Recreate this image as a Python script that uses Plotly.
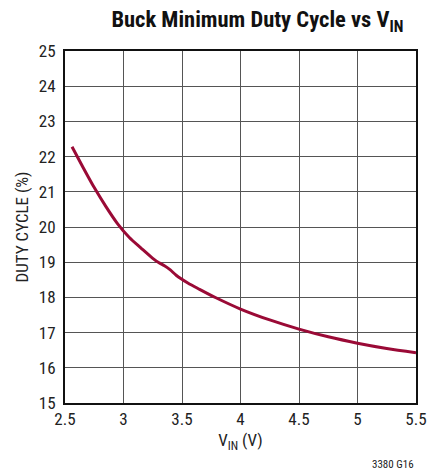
import plotly.graph_objects as go

vin = [2.56, 2.65, 2.75, 2.85, 2.95, 3.05, 3.15, 3.25, 3.30, 3.35, 3.40, 3.45, 3.55, 3.65, 3.79, 4.00, 4.25, 4.50, 4.75, 5.00, 5.25, 5.50]
duty = [22.28, 21.72, 21.12, 20.58, 20.09, 19.70, 19.40, 19.11, 18.99, 18.90, 18.78, 18.63, 18.41, 18.23, 17.99, 17.67, 17.36, 17.10, 16.88, 16.70, 16.55, 16.43]

x_ticks = [2.5, 3, 3.5, 4, 4.5, 5, 5.5]
x_labels = ["2.5", "3", "3.5", "4", "4.5", "5", "5.5"]
y_ticks = list(range(15, 26))

FONT = "Liberation Sans Narrow, Roboto Condensed, Arial Narrow, sans-serif"

fig = go.Figure()
fig.add_trace(go.Scatter(x=vin, y=duty, mode="lines",
                         line=dict(color="#9a0a36", width=3, shape="spline", smoothing=0.8),
                         showlegend=False, hoverinfo="skip"))

fig.update_layout(
    width=429, height=474,
    margin=dict(l=65, r=13, t=51, b=71, autoexpand=False),
    paper_bgcolor="white", plot_bgcolor="white",
    font=dict(family=FONT, color="#222", size=17),
    title=dict(text="<b>Buck Minimum Duty Cycle vs V<sub>IN</sub></b>",
               xref="container", x=0.60, xanchor="center", y=0.96, yanchor="middle",
               font=dict(family=FONT, size=22.5, color="#111")),
)
fig.update_xaxes(range=[2.5, 5.5], tickvals=x_ticks, ticktext=x_labels,
                 showgrid=True, gridcolor="#555", gridwidth=1,
                 showline=True, linecolor="#111", linewidth=2, mirror=True,
                 ticks="", zeroline=False, automargin=False,
                 title=dict(text="V<sub>IN</sub> (V)", font=dict(size=17), standoff=6),
                 tickfont=dict(size=17))
fig.update_yaxes(range=[15, 25], tickvals=y_ticks,
                 showgrid=True, gridcolor="#555", gridwidth=1,
                 showline=True, linecolor="#111", linewidth=2, mirror=True,
                 ticks="", zeroline=False, automargin=False, ticklabelstandoff=4,
                 title=dict(text="DUTY CYCLE (%)", font=dict(size=17), standoff=6),
                 tickfont=dict(size=17))
fig.add_annotation(text="3380 G16", xref="paper", yref="paper", x=1.0, y=-0.176,
                   xanchor="right", yanchor="middle", showarrow=False,
                   font=dict(family=FONT, size=11, color="#222"))

fig.write_html("out.html", config={"displayModeBar": False},
               post_script="document.body.style.margin='0px';document.body.style.overflow='hidden';")
